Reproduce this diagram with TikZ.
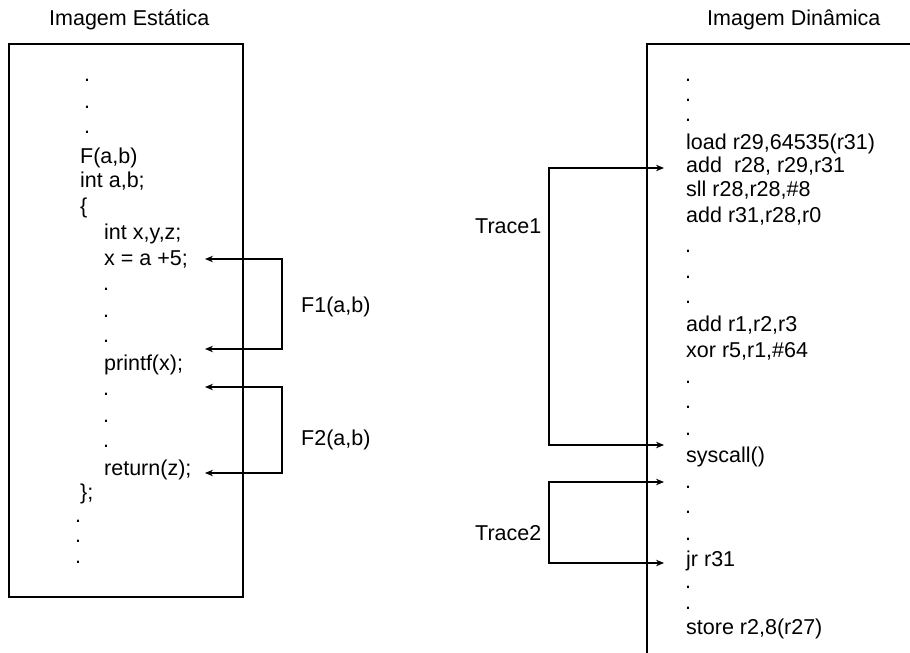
\documentclass[tikz,border=0pt]{standalone}
\usepackage{fontspec}
\setmainfont{Liberation Sans}
\usetikzlibrary{arrows.meta}
\begin{document}
\begin{tikzpicture}[x=1pt,y=-1pt,
  txt/.style={anchor=base west,inner sep=0pt,font=\fontsize{21.5}{25}\selectfont},
  dotl/.style={txt,text height=3pt,text depth=0pt},
  frame/.style={line width=1.4pt},
  conn/.style={line width=1.1pt,{Stealth[length=8pt,width=6.5pt]}-{Stealth[length=8pt,width=6.5pt]}}]
\useasboundingbox (0,0) rectangle (910,653);

% titles
\node[txt] (tstat) at (49,25) {Imagem Estática};
\node[txt] (tdyn) at (707,25) {Imagem Dinâmica};

% left box
\draw[frame] (9,44) rectangle (243,597);
\node[dotl] (ld1) at (84,81) {.};
\node[dotl] (ld2) at (84,108) {.};
\node[dotl] (ld3) at (84,133) {.};
\node[txt] (lf) at (80,163) {F(a,b)};
\node[txt] (lint) at (80,187) {int a,b;};
\node[txt] (lbr) at (80,213) {\{};
\node[txt] (lxyz) at (104,239) {int x,y,z;};
\node[txt] (lx) at (104,265) {x = a +5;};
\node[dotl] (ld4) at (103,290) {.};
\node[dotl] (ld5) at (103,317) {.};
\node[dotl] (ld6) at (103,342) {.};
\node[txt] (lpr) at (104,370) {printf(x);};
\node[dotl] (ld7) at (103,395) {.};
\node[dotl] (ld8) at (103,422) {.};
\node[dotl] (ld9) at (103,447) {.};
\node[txt] (lret) at (104,475) {return(z);};
\node[txt] (lend) at (80,499) {\};};
\node[dotl] (ld10) at (75,522) {.};
\node[dotl] (ld11) at (75,542) {.};
\node[dotl] (ld12) at (75,563) {.};

% F1 / F2
\coordinate (f1a) at (205,259);
\coordinate (f1b) at (282,259);
\coordinate (f1c) at (282,349);
\coordinate (f1d) at (205,349);
\draw[conn] (f1a) -- (f1b) -- (f1c) -- (f1d);
\node[txt] (lf1) at (301,312) {F1(a,b)};
\coordinate (f2a) at (205,387);
\coordinate (f2b) at (282,387);
\coordinate (f2c) at (282,473);
\coordinate (f2d) at (205,473);
\draw[conn] (f2a) -- (f2b) -- (f2c) -- (f2d);
\node[txt] (lf2) at (301,445) {F2(a,b)};

% right box (open)
\draw[frame] (647,653) -- (647,44) -- (910,44);
\node[dotl] (rd1) at (685,81) {.};
\node[dotl] (rd2) at (685,101) {.};
\node[dotl] (rd3) at (685,121) {.};
\node[txt] (rload) at (686,149) {load r29,64535(r31)};
\node[txt] (radd1) at (686,172) {add\ \ r28, r29,r31};
\node[txt] (rsll) at (686,196) {sll r28,r28,\#8};
\node[txt] (radd2) at (686,222) {add r31,r28,r0};
\node[dotl] (rd4) at (685,252) {.};
\node[dotl] (rd5) at (685,278) {.};
\node[dotl] (rd6) at (685,303) {.};
\node[txt] (radd3) at (686,331) {add r1,r2,r3};
\node[txt] (rxor) at (686,357) {xor r5,r1,\#64};
\node[dotl] (rd7) at (685,383) {.};
\node[dotl] (rd8) at (685,408) {.};
\node[dotl] (rd9) at (685,435) {.};
\node[txt] (rsys) at (686,462) {syscall()};
\node[dotl] (rd10) at (685,488) {.};
\node[dotl] (rd11) at (685,513) {.};
\node[dotl] (rd12) at (685,540) {.};
\node[txt] (rjr) at (686,566) {jr r31};
\node[dotl] (rd13) at (685,588) {.};
\node[dotl] (rd14) at (685,609) {.};
\node[txt] (rstore) at (686,634) {store r2,8(r27)};

% traces
\coordinate (t1a) at (664,168);
\coordinate (t1b) at (549,168);
\coordinate (t1c) at (549,445);
\coordinate (t1d) at (664,445);
\draw[conn] (t1a) -- (t1b) -- (t1c) -- (t1d);
\node[txt] (lt1) at (475,233) {Trace1};
\coordinate (t2a) at (664,482);
\coordinate (t2b) at (549,482);
\coordinate (t2c) at (549,563);
\coordinate (t2d) at (664,563);
\draw[conn] (t2a) -- (t2b) -- (t2c) -- (t2d);
\node[txt] (lt2) at (475,540) {Trace2};
\end{tikzpicture}
\end{document}
